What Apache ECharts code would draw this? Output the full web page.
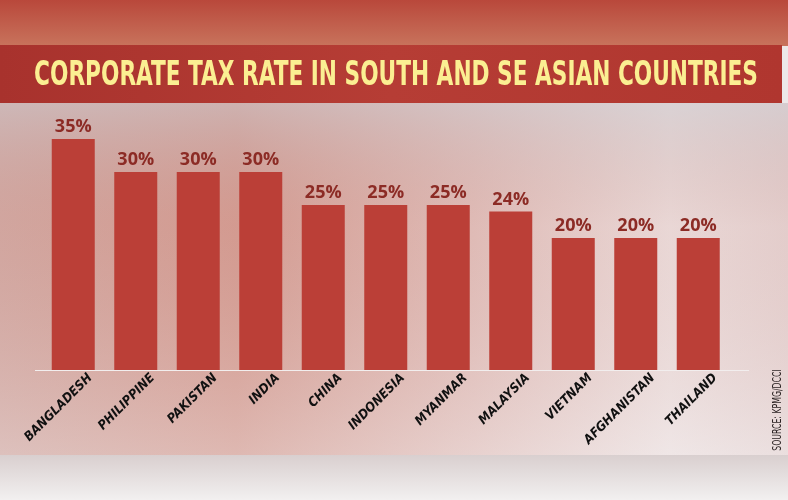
<!DOCTYPE html>
<html>
<head>
<meta charset="utf-8">
<style>
  html, body { margin: 0; padding: 0; background: #ece8e8; }
  #chart { width: 788px; height: 500px; }
</style>
<script src="https://cdn.jsdelivr.net/npm/echarts@6/dist/echarts.min.js"></script>
</head>
<body>
<div id="chart"></div>
<script>
const titleText = 'CORPORATE TAX RATE IN SOUTH AND SE ASIAN COUNTRIES';
const sourceText = 'SOURCE: KPMG/DCCI';
const countries = ['BANGLADESH', 'PHILIPPINE', 'PAKISTAN', 'INDIA', 'CHINA', 'INDONESIA', 'MYANMAR', 'MALAYSIA', 'VIETNAM', 'AFGHANISTAN', 'THAILAND'];
const taxRates = [35, 30, 30, 30, 25, 25, 25, 24, 20, 20, 20];

const chart = echarts.init(document.getElementById('chart'), null, { renderer: 'canvas' });

const narrowFont = '"Liberation Sans Narrow", "DejaVu Sans Condensed", sans-serif';

chart.setOption({
  animation: false,
  backgroundColor: '#ece8e8',
  graphic: [
    // top photo strip
    { type: 'rect', z: -10, shape: { x: 0, y: 0, width: 788, height: 46 },
      style: { fill: new echarts.graphic.LinearGradient(0, 0, 0, 1, [
        { offset: 0, color: '#b9483b' }, { offset: 1, color: '#c8735c' }]) } },
    // title band
    { type: 'rect', z: -9, shape: { x: 0, y: 45, width: 782, height: 58 },
      style: { fill: new echarts.graphic.LinearGradient(0, 0, 1, 0, [
        { offset: 0, color: '#a8322d' }, { offset: 0.5, color: '#b63d35' }, { offset: 1, color: '#b0362f' }]) } },
    // chart photo area
    { type: 'rect', z: -10, shape: { x: 0, y: 103, width: 788, height: 352 },
      style: { fill: new echarts.graphic.LinearGradient(0, 0, 1, 0, [
        { offset: 0, color: '#d3aaa4' }, { offset: 0.3, color: '#d59d93' },
        { offset: 0.6, color: '#e3c3bf' }, { offset: 0.85, color: '#efe4e4' }, { offset: 1, color: '#e8d8d8' }]) } },
    { type: 'rect', z: -9, shape: { x: 0, y: 103, width: 788, height: 352 },
      style: { fill: new echarts.graphic.LinearGradient(0, 0, 0, 1, [
        { offset: 0, color: 'rgba(200,195,200,0.55)' }, { offset: 0.35, color: 'rgba(200,140,130,0.15)' },
        { offset: 1, color: 'rgba(240,235,235,0.35)' }]) } },
    // bottom strip
    { type: 'rect', z: -10, shape: { x: 0, y: 455, width: 788, height: 45 },
      style: { fill: new echarts.graphic.LinearGradient(0, 0, 0, 1, [
        { offset: 0, color: '#d9cfcf' }, { offset: 1, color: '#f2f0f0' }]) } },
    // baseline
    { type: 'line', z: 5, shape: { x1: 35, y1: 370.5, x2: 749, y2: 370.5 },
      style: { stroke: '#f2eeee', lineWidth: 1.2 } },
    // title
    { type: 'text', z: 10, x: 396, y: 76, scaleX: 0.73,
      style: { text: titleText, fill: '#fbef92', font: 'bold 33px ' + narrowFont,
        align: 'center', verticalAlign: 'middle' } },
    // source
    { type: 'text', z: 10, x: 778, y: 410, rotation: Math.PI / 2, scaleX: 0.72,
      style: { text: sourceText, fill: '#2a2222', font: '12px ' + narrowFont,
        align: 'center', verticalAlign: 'middle' } }
  ],
  grid: [
    { left: 42, right: 58.5, top: 106, bottom: 130, outerBoundsMode: 'none', containLabel: false },
    { left: 59, right: 41.5, top: 106, bottom: 130, outerBoundsMode: 'none', containLabel: false }
  ],
  xAxis: [
    {
      type: 'category', gridIndex: 0, data: countries,
      axisLine: { show: false }, axisTick: { show: false }, axisLabel: { show: false }
    },
    {
      type: 'category', gridIndex: 1, data: countries,
      axisLine: { show: false }, axisTick: { show: false },
      axisLabel: {
        interval: 0,
        rotate: 45,
        margin: 6,
        color: '#111',
        fontFamily: narrowFont,
        fontWeight: 'bold',
        fontStyle: 'italic',
        fontSize: 13
      }
    }
  ],
  yAxis: [
    { type: 'value', gridIndex: 0, min: 0, max: 40, show: false, splitLine: { show: false } },
    { type: 'value', gridIndex: 1, min: 0, max: 40, show: false, splitLine: { show: false } }
  ],
  series: [{
    type: 'bar',
    xAxisIndex: 0,
    yAxisIndex: 0,
    data: taxRates,
    barWidth: 43,
    itemStyle: { color: '#bb3f37' },
    label: {
      show: true,
      position: 'top',
      distance: 3,
      formatter: '{c}%',
      color: '#8c2b25',
      fontFamily: '"Open Sans", sans-serif',
      fontWeight: 'bold',
      fontSize: 18
    }
  }]
});
</script>
</body>
</html>
